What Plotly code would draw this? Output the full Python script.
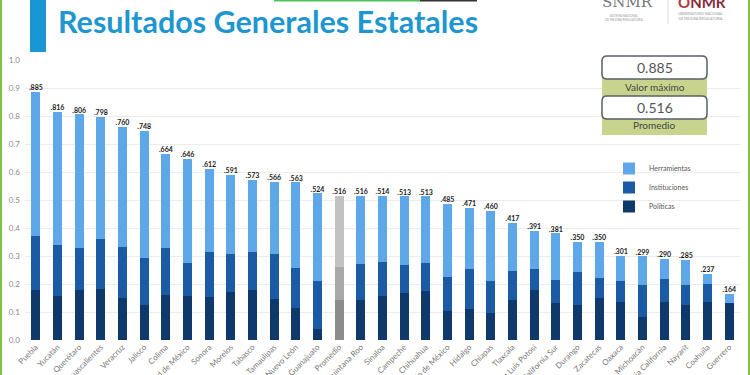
import plotly.graph_objects as go

estados = ["Puebla", "Yucatán", "Querétaro", "Aguascalientes", "Veracruz", "Jalisco", "Colima",
           "Ciudad de México", "Sonora", "Morelos", "Tabasco", "Tamaulipas", "Nuevo León",
           "Guanajuato", "Promedio", "Quintana Roo", "Sinaloa", "Campeche", "Chihuahua",
           "Estado de México", "Hidalgo", "Chiapas", "Tlaxcala", "San Luis Potosí",
           "Baja California Sur", "Durango", "Zacatecas", "Oaxaca", "Michoacán",
           "Baja California", "Nayarit", "Coahuila", "Guerrero"]
politicas = [0.180, 0.158, 0.180, 0.182, 0.151, 0.126, 0.162, 0.158, 0.152, 0.170, 0.180,
             0.145, 0.115, 0.040, 0.142, 0.144, 0.156, 0.169, 0.175, 0.102, 0.112, 0.098,
             0.142, 0.179, 0.132, 0.124, 0.151, 0.135, 0.081, 0.137, 0.126, 0.136, 0.133]
instituciones = [0.191, 0.181, 0.150, 0.178, 0.182, 0.167, 0.168, 0.118, 0.161, 0.136, 0.133,
                 0.162, 0.141, 0.172, 0.119, 0.129, 0.124, 0.098, 0.101, 0.123, 0.142, 0.112,
                 0.106, 0.073, 0.082, 0.120, 0.072, 0.075, 0.115, 0.081, 0.070, 0.064, 0.000]
herramientas = [0.514, 0.477, 0.476, 0.438, 0.427, 0.455, 0.334, 0.370, 0.299, 0.285, 0.260,
                0.259, 0.307, 0.312, 0.255, 0.243, 0.234, 0.246, 0.237, 0.260, 0.217, 0.250,
                0.169, 0.139, 0.167, 0.106, 0.127, 0.091, 0.103, 0.072, 0.089, 0.037, 0.031]
totales = [0.885, 0.816, 0.806, 0.798, 0.760, 0.748, 0.664, 0.646, 0.612, 0.591, 0.573,
           0.566, 0.563, 0.524, 0.516, 0.516, 0.514, 0.513, 0.513, 0.485, 0.471, 0.460,
           0.417, 0.391, 0.381, 0.350, 0.350, 0.301, 0.299, 0.290, 0.285, 0.237, 0.164]
y_ticks = [0.0, 0.1, 0.2, 0.3, 0.4, 0.5, 0.6, 0.7, 0.8, 0.9, 1.0]

W, H = 750, 375
L, R, T, B = 25, 10, 60, 35
PW, PH = W - L - R, H - T - B


def px(x):
    return (x - L) / PW


def py(y):
    return (T + PH - y) / PH


def colors(base, grey):
    return [grey if e == "Promedio" else base for e in estados]


fig = go.Figure()
series = [
    ("Políticas", politicas, "#0F396B", "#8C8C8C", 3),
    ("Instituciones", instituciones, "#1B5BA6", "#A8A8A8", 2),
    ("Herramientas", herramientas, "#5EA8EA", "#C2C2C2", 1),
]
for name, vals, c, g, rank in series:
    fig.add_trace(go.Bar(x=estados, y=vals, name=name, legendgroup=name, legendrank=rank,
                         marker=dict(color=colors(c, g), line=dict(width=0))))

fig.add_trace(go.Scatter(x=estados, y=totales, mode="text",
                         text=["<b>" + f"{v:.3f}"[1:] + "</b>" for v in totales],
                         textposition="top center",
                         textfont=dict(size=7, color="#1a1a1a", family="Lato"),
                         showlegend=False, hoverinfo="skip"))

fig.update_layout(
    width=W, height=H,
    margin=dict(l=L, r=R, t=T, b=B, autoexpand=False),
    barmode="stack", bargap=0.58,
    paper_bgcolor="white", plot_bgcolor="white",
    font=dict(family="Lato", color="#777"),
    legend=dict(x=px(609), y=py(154), xanchor="left", yanchor="top",
                traceorder="grouped", tracegroupgap=0,
                font=dict(size=7, color="#555"), bgcolor="rgba(0,0,0,0)",
                itemwidth=30),
    xaxis=dict(tickangle=-45, tickfont=dict(size=8, color="#7a7a7a"),
               showgrid=False, ticks="", automargin=False,
               range=[-0.5, len(estados) - 0.5]),
    yaxis=dict(range=[0, 1.0], tickvals=y_ticks, tickformat=".1f",
               tickfont=dict(size=8, color="#8a8a8a"), gridcolor="#ECECEC",
               gridwidth=1, zeroline=False, automargin=False, ticklabelstandoff=4),
    showlegend=True,
)

shapes = []
shapes.append(dict(type="rect", xref="paper", yref="paper", x0=px(30), x1=px(46), y0=py(0), y1=py(52),
                   fillcolor="#1897D4", line=dict(width=0), layer="above"))
shapes.append(dict(type="rect", xref="paper", yref="paper", x0=px(0), x1=px(2), y0=py(375), y1=py(0),
                   fillcolor="#7DC242", line=dict(width=0)))
shapes.append(dict(type="rect", xref="paper", yref="paper", x0=px(748), x1=px(750), y0=py(375), y1=py(0),
                   fillcolor="#7DC242", line=dict(width=0)))
shapes.append(dict(type="rect", xref="paper", yref="paper", x0=px(274), x1=px(420), y0=py(1.5), y1=py(0),
                   fillcolor="#4CC25A", line=dict(width=0)))
shapes.append(dict(type="rect", xref="paper", yref="paper", x0=px(420), x1=px(477), y0=py(1.5), y1=py(0),
                   fillcolor="#333333", line=dict(width=0)))
shapes.append(dict(type="line", xref="paper", yref="paper", x0=px(668), x1=px(668), y0=py(0), y1=py(24),
                   line=dict(color="#DDDDDD", width=1)))
shapes.append(dict(type="rect", xref="paper", yref="paper", x0=px(602), x1=px(707), y0=py(135), y1=py(70),
                   fillcolor="#C8D48E", line=dict(width=0)))


def rrect(x0, y0, x1, y1, r):
    pts = [(x0 + r, y0), (x1 - r, y0), ("Q", x1, y0, x1, y0 + r), (x1, y1 - r),
           ("Q", x1, y1, x1 - r, y1), (x0 + r, y1), ("Q", x0, y1, x0, y1 - r),
           (x0, y0 + r), ("Q", x0, y0, x0 + r, y0)]
    path = f"M{px(pts[0][0])},{py(pts[0][1])}"
    for p in pts[1:]:
        if p[0] == "Q":
            path += f" Q{px(p[1])},{py(p[2])} {px(p[3])},{py(p[4])}"
        else:
            path += f" L{px(p[0])},{py(p[1])}"
    return path + " Z"


for y0, y1 in [(56, 79), (96, 119)]:
    shapes.append(dict(type="path", xref="paper", yref="paper", path=rrect(602, y0, 707, y1, 5),
                       fillcolor="white", line=dict(color="#5A6068", width=1.5)))
fig.update_layout(shapes=shapes)


def note(text, x, y, size, color, family="Lato", xanchor="center"):
    return dict(text=text, x=px(x), y=py(y), xref="paper", yref="paper", xanchor=xanchor,
                yanchor="middle", showarrow=False, font=dict(size=size, color=color, family=family))


ann = [
    note("<b>Resultados Generales Estatales</b>", 56, 21, 30.5, "#1E96CF", xanchor="left"),
    note(f"{max(totales):.3f}", 654.5, 67.5, 14, "#555"),
    note("Valor máximo", 654.5, 86.5, 10, "#444"),
    note(f"{totales[estados.index('Promedio')]:.3f}", 654.5, 107.5, 14, "#555"),
    note("Promedio", 654.5, 125.5, 10, "#444"),
    note("SNMR", 627, 2, 15, "#777", family="DejaVu Serif"),
    note("SISTEMA NACIONAL<br>DE MEJORA REGULATORIA", 603, 17.5, 3, "#999", xanchor="left"),
    note("<b><span style='color:#B33A3A'>O</span>NMR</b>", 702, 2, 15, "#8A2B3A"),
    note("OBSERVATORIO NACIONAL<br>DE MEJORA REGULATORIA", 676, 16.5, 3.5, "#999", xanchor="left"),
]
fig.update_layout(annotations=ann)

fig.write_html("out.html", config={"displayModeBar": False},
               post_script="document.body.style.margin='0';")
